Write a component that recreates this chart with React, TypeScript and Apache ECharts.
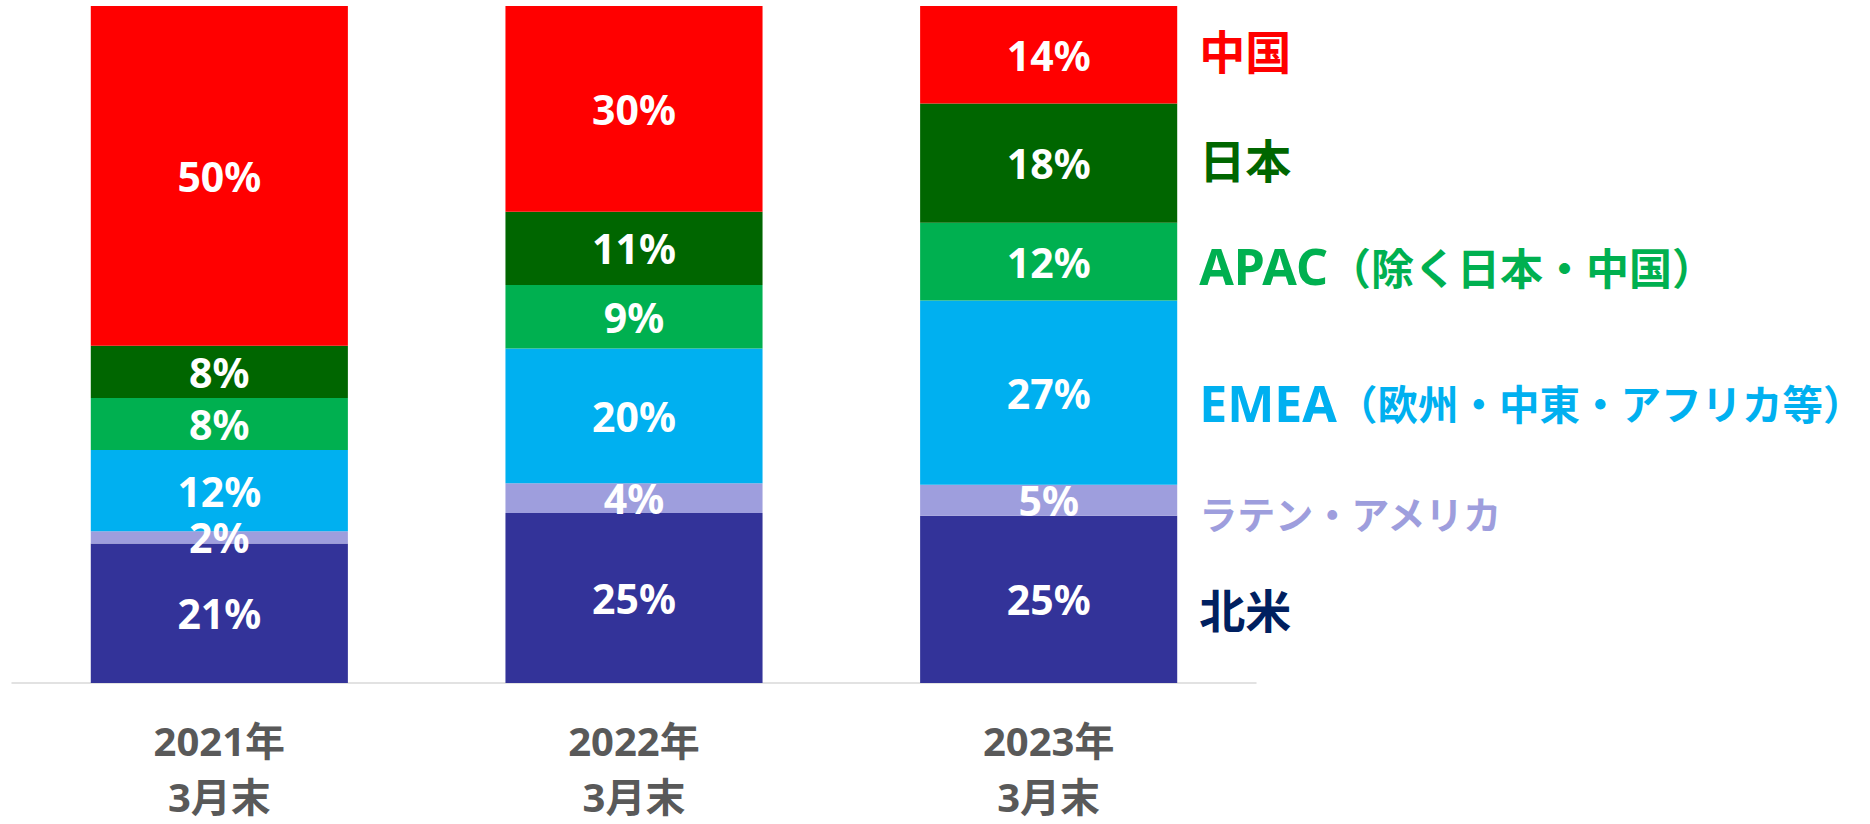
import React, { useEffect, useRef } from "react";
import * as echarts from "echarts";

const categories = ["2021年\n3月末", "2022年\n3月末", "2023年\n3月末"];
const regionNames = [
  "北米",
  "ラテン・アメリカ",
  "EMEA（欧州・中東・アフリカ等）",
  "APAC（除く日本・中国）",
  "日本",
  "中国",
];
const northAmerica = [20.6, 25.1, 24.7];
const latinAmerica = [1.8, 4.4, 4.6];
const emea = [12.0, 19.9, 27.2];
const apac = [7.7, 9.4, 11.5];
const japan = [7.7, 10.8, 17.6];
const china = [50.2, 30.4, 14.4];

const seriesValues = [northAmerica, latinAmerica, emea, apac, japan, china];
const barColors = ["#333399", "#9E9EDD", "#00B0F0", "#00B050", "#006600", "#FF0000"];
const nameColors = ["#002060", "#9E9EDD", "#00B0F0", "#00B050", "#006600", "#FF0000"];
const nameOffsets = [9, 12, 10, 4, -5, -6];
const nameCjkSizes = [46, 38, 40.5, 43, 46, 46];

const FONT = "'Noto Sans', 'Noto Sans CJK JP', sans-serif";
const CJK_FONT = "'Noto Sans CJK JP', 'Noto Sans', sans-serif";

export default function App() {
  const ref = useRef<HTMLDivElement>(null);

  useEffect(() => {
    document.body.style.margin = "0";
    document.body.style.overflow = "hidden";
    if (!ref.current) return;
    const chart = echarts.init(ref.current, undefined, { renderer: "svg" });
    const catLabelStyle = {
      color: "#595959",
      fontSize: 40,
      fontWeight: "bold",
      fontFamily: FONT,
    };
    const option: any = {
      animation: false,
      backgroundColor: "#ffffff",
      grid: {
        left: 12,
        right: 614,
        top: 6,
        bottom: 141,
        containLabel: false,
        outerBoundsMode: "none",
      },
      xAxis: {
        type: "category",
        data: categories,
        axisLine: { show: true, lineStyle: { color: "#D9D9D9", width: 1.5 } },
        axisTick: { show: false },
        axisLabel: {
          ...catLabelStyle,
          margin: 19,
          formatter: (v: string) => {
            const parts = v.split("\n");
            return `{a|${parts[0]}}\n{b|${parts[1]}}`;
          },
          rich: {
            a: { ...catLabelStyle, lineHeight: 76 },
            b: { ...catLabelStyle, lineHeight: 36 },
          },
        },
      },
      yAxis: {
        type: "value",
        min: 0,
        max: 100,
        show: false,
        splitLine: { show: false },
      },
      series: seriesValues.map((vals, i) => ({
        name: regionNames[i],
        type: "bar",
        stack: "total",
        barWidth: "62%",
        data: vals,
        itemStyle: { color: barColors[i] },
        label: {
          show: true,
          position: "inside",
          color: "#ffffff",
          fontSize: 41,
          fontWeight: "bold",
          fontFamily: FONT,
          formatter: (p: any) => Math.round(p.value) + "%",
        },
      })),
    };
    chart.setOption(option);

    // region names beside the last bar
    const last = categories.length - 1;
    const x0 = chart.convertToPixel({ xAxisIndex: 0 }, categories[0]) as number;
    const x1 = chart.convertToPixel({ xAxisIndex: 0 }, categories[1]) as number;
    const xl = chart.convertToPixel({ xAxisIndex: 0 }, categories[last]) as number;
    const halfBar = ((x1 - x0) * 0.62) / 2;
    let cum = 0;
    const texts: any[] = seriesValues.map((vals, i) => {
      const mid = cum + vals[last] / 2;
      cum += vals[last];
      const y = chart.convertToPixel({ yAxisIndex: 0 }, mid) as number;
      const m = regionNames[i].match(/^([A-Za-z]+)(.*)$/);
      const text = m ? `{l|${m[1]}}{c|${m[2]}}` : `{c|${regionNames[i]}}`;
      return {
        type: "text",
        x: xl + halfBar + 22,
        y: y + nameOffsets[i],
        style: {
          text,
          fill: nameColors[i],
          align: "left",
          verticalAlign: "middle",
          rich: {
            l: { fontSize: 50, fontWeight: "bold", fontFamily: FONT, fill: nameColors[i], color: nameColors[i] },
            c: { fontSize: nameCjkSizes[i], fontWeight: "bold", fontFamily: CJK_FONT, fill: nameColors[i], color: nameColors[i] },
          },
        },
      };
    });
    chart.setOption({ graphic: texts });

    return () => chart.dispose();
  }, []);

  return (
    <div
      ref={ref}
      style={{ position: "fixed", left: 0, top: 0, width: 1870, height: 824 }}
    />
  );
}
